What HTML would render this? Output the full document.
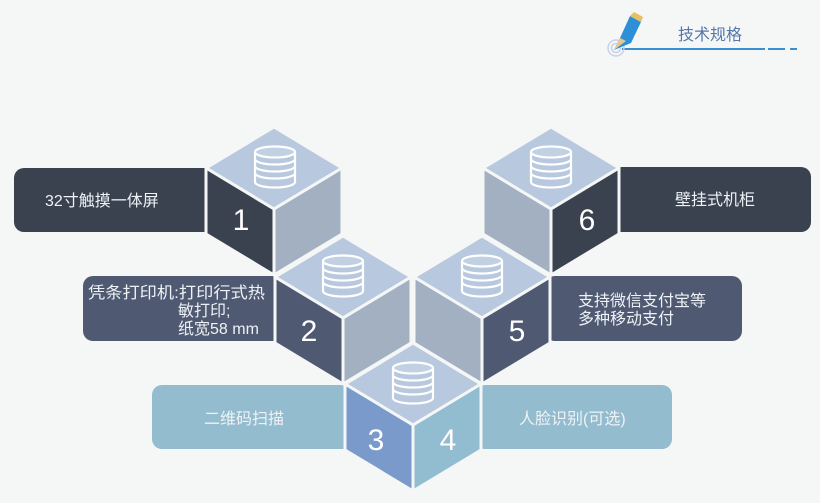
<!DOCTYPE html>
<html><head><meta charset="utf-8"><style>
html,body{margin:0;padding:0;background:#f5f7f7;}
svg{display:block;font-family:"Liberation Sans","Noto Sans CJK SC",sans-serif;}
</style></head><body>
<svg width="820" height="503" viewBox="0 0 820 503" xmlns="http://www.w3.org/2000/svg">
<rect width="820" height="503" fill="#f5f7f7"/>
<line x1="622" y1="49" x2="765" y2="49" stroke="#3a8fd0" stroke-width="2"/>
<line x1="768" y1="49" x2="785" y2="49" stroke="#3a8fd0" stroke-width="2"/>
<line x1="790" y1="49" x2="797" y2="49" stroke="#3a8fd0" stroke-width="2"/>
<circle cx="616" cy="48" r="8" fill="none" stroke="#c8d0e8" stroke-width="1.5"/>
<circle cx="616" cy="48" r="4.5" fill="none" stroke="#c8d0e8" stroke-width="1.5"/>
<polygon points="614,50 620,38 630,16 641,22 631,43" fill="#2d8fd8"/>
<polygon points="630,16 641,22 643,17 634,12" fill="#e8c060"/>
<polygon points="614,50 620,38 626,41" fill="#e8c890"/>
<text x="678" y="40" font-size="16" fill="#5577aa">技术规格</text>
<rect x="14" y="168" width="220" height="64" rx="10" fill="#3a4250"/>
<rect x="83" y="276" width="200" height="65" rx="10" fill="#4f5a72"/>
<rect x="152" y="385" width="200" height="64" rx="10" fill="#93bccf"/>
<rect x="475" y="385" width="197" height="64" rx="10" fill="#93bccf"/>
<rect x="545" y="276" width="197" height="65" rx="10" fill="#4f5a72"/>
<rect x="612" y="167" width="199" height="65" rx="10" fill="#3a4250"/>
<g fill="#eef2f6" font-size="16">
<text x="45" y="206">32寸触摸一体屏</text>
<text x="88" y="298" textLength="177" lengthAdjust="spacingAndGlyphs">凭条打印机:打印行式热</text>
<text x="178" y="316">敏打印;</text>
<text x="178" y="334">纸宽58 mm</text>
<text x="204" y="424">二维码扫描</text>
<text x="519" y="424">人脸识别(可选)</text>
<text x="578" y="306">支持微信支付宝等</text>
<text x="578" y="324">多种移动支付</text>
<text x="675" y="205">壁挂式机柜</text>
</g>
<defs>
<g id="coin" fill="none" stroke="#ffffff" stroke-width="2.2">
<ellipse cx="0" cy="-14" rx="20" ry="5.5" fill="#ffffff" fill-opacity="0.15"/>
<path d="M-20,-14 V16 A20,5.5 0 0 0 20,16 V-14"/>
<path d="M-20,-7 A20,5.5 0 0 0 20,-7"/>
<path d="M-20,0 A20,5.5 0 0 0 20,0"/>
<path d="M-20,7 A20,5.5 0 0 0 20,7"/>
</g>
</defs>
<g stroke="#f5f7f7" stroke-width="3" stroke-linejoin="round">
<polygon points="274,127 342,168 274,209 206,168" fill="#b8c8de"/>
<polygon points="206,168 274,209 274,275 206,234" fill="#3a4250"/>
<polygon points="342,168 274,209 274,275 342,234" fill="#a2b0c2"/>
<polygon points="551,127 619,168 551,209 483,168" fill="#b8c8de"/>
<polygon points="483,168 551,209 551,275 483,234" fill="#a2b0c2"/>
<polygon points="619,168 551,209 551,275 619,234" fill="#3a4250"/>
<polygon points="343,236 411,277 343,318 275,277" fill="#b8c8de"/>
<polygon points="275,277 343,318 343,384 275,343" fill="#4f5a72"/>
<polygon points="411,277 343,318 343,384 411,343" fill="#a2b0c2"/>
<polygon points="482,236 550,277 482,318 414,277" fill="#b8c8de"/>
<polygon points="414,277 482,318 482,384 414,343" fill="#a2b0c2"/>
<polygon points="550,277 482,318 482,384 550,343" fill="#4f5a72"/>
<polygon points="413,343 481,384 413,425 345,384" fill="#b8c8de"/>
<polygon points="345,384 413,425 413,491 345,450" fill="#7a9acc"/>
<polygon points="481,384 413,425 413,491 481,450" fill="#92bcd0"/>
</g>
<use href="#coin" x="275" y="166"/>
<use href="#coin" x="551" y="166"/>
<use href="#coin" x="343" y="275"/>
<use href="#coin" x="482" y="275"/>
<use href="#coin" x="413" y="382"/>
<g fill="#ffffff" font-size="30" text-anchor="middle">
<text x="241" y="230">1</text>
<text x="587" y="230">6</text>
<text x="309" y="341">2</text>
<text x="517" y="341">5</text>
<text x="376" y="450">3</text>
<text x="448" y="450">4</text>
</g>
</svg>
</body></html>
